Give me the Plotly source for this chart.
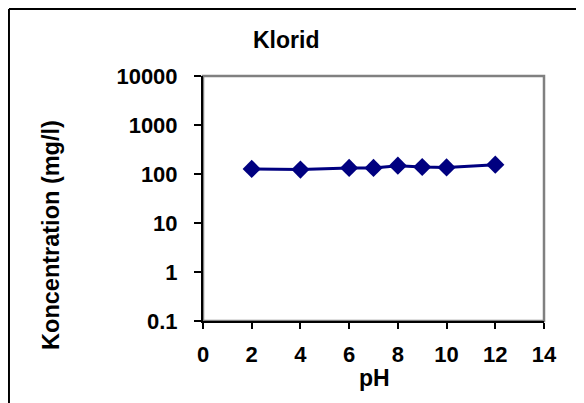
import plotly.graph_objects as go

# pH values and measured chloride concentration (mg/l)
ph = [2, 4, 6, 7, 8, 9, 10, 12]
klorid = [127, 123, 133, 133, 148, 139, 136, 155]

y_tickvals = [0.1, 1, 10, 100, 1000, 10000]
y_ticktext = ["0.1", "1", "10", "100", "1000", "10000"]

navy = "#000080"
font = dict(family="Liberation Sans, Arial", size=22, color="black", weight="bold")

fig = go.Figure(go.Scatter(
    x=ph, y=klorid, mode="lines+markers",
    line=dict(color=navy, width=3),
    marker=dict(symbol="diamond", size=14, color=navy),
    showlegend=False,
))

# the page keeps its default 8px body margin, so the figure is 8px smaller
fig.update_layout(
    width=576, height=395,
    margin=dict(l=195, r=40, t=68, b=82),
    paper_bgcolor="white", plot_bgcolor="white",
    font=font,
    xaxis=dict(
        range=[0, 14], tickvals=[0, 2, 4, 6, 8, 10, 12, 14],
        showgrid=False, zeroline=False,
        showline=True, linecolor="black", linewidth=2,
        ticks="outside", ticklen=6, tickwidth=2, tickcolor="black",
        ticklabelstandoff=7,
    ),
    yaxis=dict(
        type="log", range=[-1, 4],
        tickvals=y_tickvals, ticktext=y_ticktext,
        showgrid=False, zeroline=False,
        showline=True, linecolor="black", linewidth=2,
        ticks="outside", ticklen=7, tickwidth=2, tickcolor="black",
        ticklabelstandoff=12,
    ),
    shapes=[
        # grey plot-area frame (top/right visible)
        dict(type="rect", xref="paper", yref="paper", x0=0, x1=1, y0=0, y1=1,
             line=dict(color="#808080", width=2.5), layer="below"),
        # outer chart border, left and top edges
        dict(type="line", xref="paper", yref="paper", x0=-0.569, x1=-0.569, y0=1.2735, y1=-0.4,
             line=dict(color="black", width=2)),
        dict(type="line", xref="paper", yref="paper", x0=-0.569, x1=1.2, y0=1.2735, y1=1.2735,
             line=dict(color="black", width=2)),
    ],
    annotations=[
        dict(text="Klorid", xref="paper", yref="paper", x=0.243, y=1.147,
             xanchor="center", yanchor="middle", showarrow=False, font=dict(size=23)),
        dict(text="pH", xref="paper", yref="paper", x=0.504, y=-0.233,
             xanchor="center", yanchor="middle", showarrow=False, font=dict(size=23)),
        dict(text="Koncentration (mg/l)", xref="paper", yref="paper", x=-0.446, y=0.351,
             xanchor="center", yanchor="middle", textangle=-90, showarrow=False,
             font=dict(size=23.5)),
    ],
)

fig.write_html("out.html", config={"displayModeBar": False})
